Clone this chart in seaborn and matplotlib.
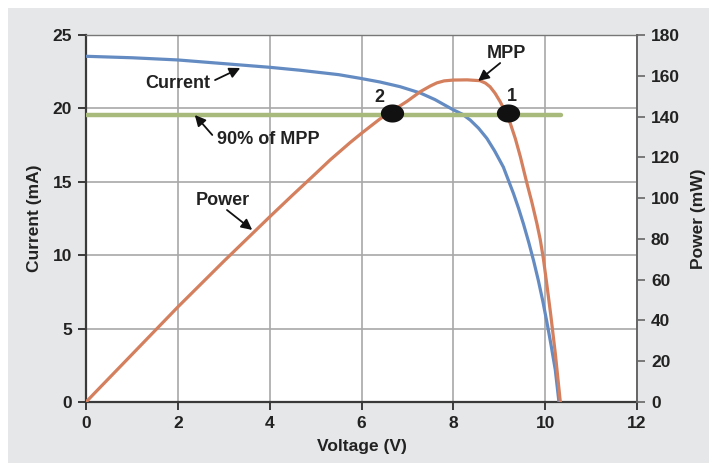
import matplotlib
matplotlib.use("Agg")
import matplotlib.pyplot as plt
import seaborn as sns
import pandas as pd
from matplotlib.patches import Rectangle
from matplotlib.path import Path
import numpy as np

# ---- data ----
voltage_i = [0, 1, 2, 3, 4, 4.66, 5.5, 5.97, 6.4, 6.84, 7.28, 7.6, 8.0, 8.2, 8.37, 8.55, 8.73,
             8.9, 9.09, 9.2, 9.31, 9.42, 9.53, 9.64, 9.75, 9.85, 9.95, 10.04, 10.13, 10.22, 10.3]
current_ma = [23.55, 23.45, 23.3, 23.05, 22.8, 22.6, 22.3, 22.05, 21.8, 21.48, 21.05, 20.6, 19.9, 19.6, 19.2,
              18.65, 17.96, 17.1, 16.0, 15.1, 14.2, 13.2, 12.1, 10.9, 9.6, 8.3, 6.85, 5.4, 3.85, 2.2, 0]

voltage_p = [0, 1, 2, 3, 4, 4.5, 5, 5.32, 5.75, 6, 6.4, 6.67, 7, 7.28, 7.5, 7.64, 7.8, 8, 8.3, 8.58, 8.7, 8.8,
             8.91, 9.02, 9.13, 9.24, 9.35, 9.46, 9.6, 9.71, 9.82, 9.89, 9.96, 10.04, 10.12, 10.22, 10.33]
power_mw = [0, 23.3, 46.6, 69, 90.8, 101.5, 112, 118.8, 127.2, 131.8, 138.8, 142.8, 147.6, 152.2, 155, 156.5,
            157.5, 157.9, 158, 157.6, 156.4, 154.6, 151.4, 147.3, 142.4, 136.7, 129.2, 120.3, 107.5, 98, 87.5,
            80, 70.5, 57, 43, 24, 0]

mpp90_v = [0, 10.34]
mpp90_p = [141, 141]

points_v = [6.67, 9.18]
points_p = [141.5, 141.5]
point_labels = ["2", "1"]

x_ticks = [0, 2, 4, 6, 8, 10, 12]
i_ticks = [0, 5, 10, 15, 20, 25]
p_ticks = [0, 20, 40, 60, 80, 100, 120, 140, 160, 180]

# ---- style ----
sns.set_theme(style="white")
plt.rcParams['font.family'] = ['Liberation Sans', 'DejaVu Sans']
plt.rcParams['font.weight'] = 'bold'

BLUE = "#648bc2"
ORANGE = "#d47f5d"
GREEN = "#a9bb7c"
TXT = "#222222"
SPINE = "#3a3a3a"

W, H = 709, 463
fig = plt.figure(figsize=(W / 100, H / 100), dpi=100, facecolor="white")
bg = Rectangle((8 / W, 0), 1 - 8 / W, 1 - 8 / H, transform=fig.transFigure,
               facecolor="#e6e7e8", edgecolor="none", zorder=-10)
fig.add_artist(bg)

L, R, T, B = 86, 637, 35, 402
ax = fig.add_axes([L / W, (H - B) / H, (R - L) / W, (B - T) / H])
ax.set_zorder(1)
ax.set_facecolor("white")
ax2 = ax.twinx()
ax2.set_zorder(2)
ax2.patch.set_visible(False)

df_i = pd.DataFrame({"V": voltage_i, "I": current_ma})
df_p = pd.DataFrame({"V": voltage_p, "P": power_mw})
df_g = pd.DataFrame({"V": mpp90_v, "P": mpp90_p})
df_pts = pd.DataFrame({"V": points_v, "P": points_p})

sns.lineplot(data=df_i, x="V", y="I", ax=ax, color=BLUE, lw=2.3, sort=False, zorder=3)
sns.lineplot(data=df_g, x="V", y="P", ax=ax2, color=GREEN, lw=3.2, zorder=2)
sns.lineplot(data=df_p, x="V", y="P", ax=ax2, color=ORANGE, lw=2.3, sort=False, zorder=3)

t = np.linspace(0, 2 * np.pi, 60)
ell = Path(np.column_stack([np.cos(t), 0.76 * np.sin(t)]))
sns.scatterplot(data=df_pts, x="V", y="P", ax=ax2, marker=ell, s=240, color="#111111",
                edgecolor="#111111", zorder=5)

ax.set_xlim(0, 12)
ax.set_ylim(0, 25)
ax2.set_ylim(0, 180)
ax.set_xticks(x_ticks)
ax.set_yticks(i_ticks)
ax2.set_yticks(p_ticks)
ax.grid(True, color="#a8a8a8", lw=1.2)
ax.set_axisbelow(True)

for a in (ax, ax2):
    for s in a.spines.values():
        s.set_visible(False)
ax.spines["left"].set_visible(True)
ax.spines["left"].set_color(SPINE)
ax.spines["left"].set_linewidth(1.6)
ax.spines["bottom"].set_visible(True)
ax.spines["bottom"].set_color(SPINE)
ax.spines["bottom"].set_linewidth(1.6)
ax2.spines["right"].set_visible(True)
ax2.spines["right"].set_color("#666666")
ax2.spines["right"].set_linewidth(1.4)
ax.spines["top"].set_visible(True)
ax.spines["top"].set_color("#777777")
ax.spines["top"].set_linewidth(1.0)

ax.tick_params(axis="both", which="major", direction="out", length=6, width=1.4,
               color=SPINE, labelsize=12.5, labelcolor=TXT, pad=4, left=True, bottom=True)
ax2.tick_params(axis="y", direction="out", length=6, width=1.2, color="#666666",
                labelsize=12.5, labelcolor=TXT, pad=4, right=True)
for lab in ax.get_xticklabels() + ax.get_yticklabels() + ax2.get_yticklabels():
    lab.set_fontweight("bold")

ax.set_xlabel("Voltage (V)", fontsize=12.5, fontweight="bold", color=TXT, labelpad=6)
ax.set_ylabel("Current (mA)", fontsize=12.5, fontweight="bold", color=TXT, labelpad=8)
ax2.set_ylabel("Power (mW)", fontsize=12.5, fontweight="bold", color=TXT, labelpad=8, rotation=90)

# ---- annotations (placed in current-axis units, drawn on the top axes) ----
k = 180 / 25
ap = dict(arrowstyle="-|>", color="#111111", lw=1.3, mutation_scale=16, shrinkA=0, shrinkB=0)
tk = dict(fontsize=13, fontweight="bold", color=TXT, ha="center", va="center", zorder=6)

ax2.text(2.0, 21.73 * k, "Current", **tk)
ax2.annotate("", xy=(3.36, 22.75 * k), xytext=(2.81, 21.93 * k), arrowprops=ap, zorder=6)

ax2.text(3.97, 17.85 * k, "90% of MPP", **tk)
ax2.annotate("", xy=(2.37, 19.55 * k), xytext=(2.75, 18.19 * k), arrowprops=ap, zorder=6)

ax2.text(2.98, 13.76 * k, "Power", **tk)
ax2.annotate("", xy=(3.62, 11.72 * k), xytext=(3.07, 13.08 * k), arrowprops=ap, zorder=6)

ax2.text(9.15, 23.77 * k, "MPP", **tk)
ax2.annotate("", xy=(8.54, 21.87 * k), xytext=(9.02, 23.09 * k), arrowprops=ap, zorder=6)

ax2.text(6.38, 20.71 * k, point_labels[0], **tk)
ax2.text(9.28, 20.78 * k, point_labels[1], **tk)

fig.savefig("out.png", dpi=100, facecolor="white")
